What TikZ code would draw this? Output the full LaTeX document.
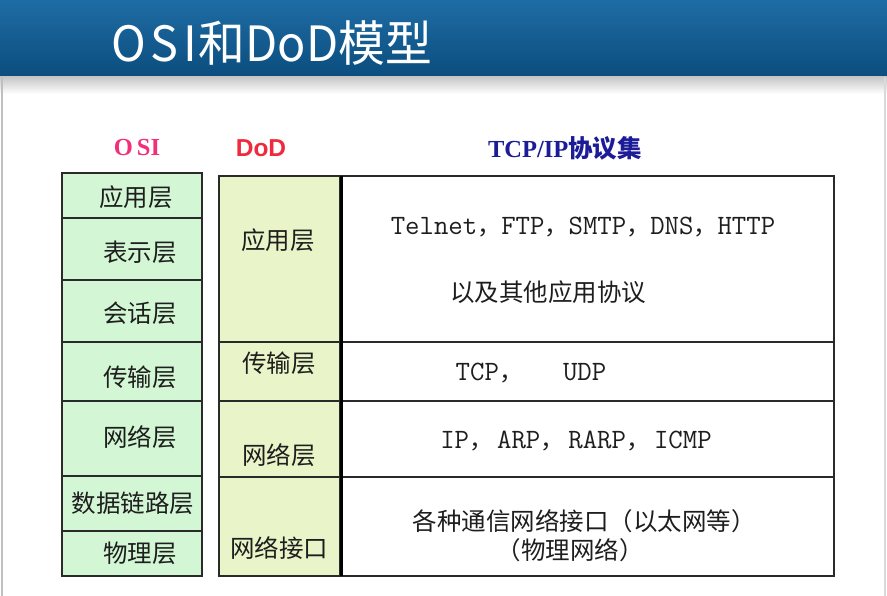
\documentclass[tikz,border=0pt]{standalone}
\usepackage{fontspec}
\setmainfont{Noto Sans CJK SC}
\newfontfamily\tnr{Liberation Serif}
\newfontfamily\arialf{Liberation Sans}
\definecolor{barTop}{HTML}{1E6CA4}
\definecolor{barBot}{HTML}{0B4D7E}
\definecolor{osiFill}{HTML}{D3F6D5}
\definecolor{dodFill}{HTML}{E9F5C8}
\definecolor{gridLine}{HTML}{2A2A2A}
\definecolor{osiHead}{HTML}{F0307A}
\definecolor{dodHead}{HTML}{EE2A3C}
\definecolor{tcpHead}{HTML}{1C1C98}
\definecolor{txt}{HTML}{1E1E1E}
\newcommand{\cellfont}{\fontsize{24.5}{29}\selectfont}
\newcommand{\latfont}{\ttfamily\fontsize{28}{30}\selectfont}
\newcommand{\cm}{{\rmfamily\fontsize{24}{28}\selectfont ，}}
\tikzset{
  cellbox/.style={draw=gridLine, line width=1.5pt, rectangle, inner sep=0pt, outer sep=0pt},
  osicell/.style={cellbox, fill=osiFill, minimum width=140pt},
  dodcell/.style={cellbox, fill=dodFill, minimum width=121pt},
  tcpcell/.style={cellbox, fill=white, minimum width=493pt},
  lbl/.style={inner sep=0pt, text=txt, font=\cellfont},
  head/.style={inner sep=0pt, font=\bfseries\fontsize{24.5}{28}\selectfont}
}
\begin{document}
\begin{tikzpicture}[x=1pt, y=-1pt]
\useasboundingbox (0,0) rectangle (887,596);
\fill[white] (0,0) rectangle (887,596);
% title bar and its shadow
\shade[top color=barTop, bottom color=barBot] (0,0) rectangle (887,77);
\shade[top color=black!22, bottom color=white] (0,77) rectangle (887,94);
\draw[black!25, line width=1.5pt] (2,77) -- (2,596);
\draw[black!15, line width=1.5pt] (885,77) -- (885,596);
\node[anchor=west, text=white, inner sep=0pt, font=\fontsize{45}{50}\selectfont]
  (title) at (111,43) {\scalebox{1.04}[1.08]{O\hspace{4pt}S\hspace{5pt}I\hspace{2pt}和DoD模型}};

% column headings
\node[head, text=osiHead] (hosi) at (137,148) {\tnr O\,SI};
\node[head, text=dodHead] (hdod) at (261,148) {\arialf DoD};
\node[head, text=tcpHead] (htcp) at (565,148) {{\tnr TCP/IP}协议集};

% OSI column
\node[osicell, minimum height=45pt] (o1) at (132,195.5) {};
\node[osicell, minimum height=62pt] (o2) at (132,249) {};
\node[osicell, minimum height=62pt] (o3) at (132,311) {};
\node[osicell, minimum height=59pt] (o4) at (132,371.5) {};
\node[osicell, minimum height=75pt] (o5) at (132,438.5) {};
\node[osicell, minimum height=55pt] (o6) at (132,503.5) {};
\node[osicell, minimum height=45pt] (o7) at (132,553.5) {};
\node[lbl] (lo1) at (136,197) {应用层};
\node[lbl] (lo2) at (140,252) {表示层};
\node[lbl] (lo3) at (140,313) {会话层};
\node[lbl] (lo4) at (140,377) {传输层};
\node[lbl] (lo5) at (140,437) {网络层};
\node[lbl] (lo6) at (133,503) {数据链路层};
\node[lbl] (lo7) at (140,553) {物理层};

% DoD column
\node[dodcell, minimum height=166pt] (d1) at (279.5,259) {};
\node[dodcell, minimum height=59pt] (d2) at (279.5,371.5) {};
\node[dodcell, minimum height=76pt] (d3) at (279.5,439) {};
\node[dodcell, minimum height=99pt] (d4) at (279.5,526.5) {};
\node[lbl] (ld1) at (278,240) {应用层};
\node[lbl] (ld2) at (279,363) {传输层};
\node[lbl] (ld3) at (279,455) {网络层};
\node[lbl] (ld4) at (279,548) {网络接口};

% TCP/IP protocol suite column
\node[tcpcell, minimum height=166pt] (t1) at (587.5,259) {};
\node[tcpcell, minimum height=59pt] (t2) at (587.5,371.5) {};
\node[tcpcell, minimum height=76pt] (t3) at (587.5,439) {};
\node[tcpcell, minimum height=99pt] (t4) at (587.5,526.5) {};
\draw[black, line width=3pt] (t1.north west) -- (t4.south west);
\node[lbl] (lt1a) at (583,227) {\latfont Telnet\cm FTP\cm SMTP\cm DNS\cm HTTP};
\node[lbl] (lt1b) at (548,292) {以及其他应用协议};
\node[lbl] (lt2) at (531,373) {\latfont TCP\cm\hspace{40pt}UDP};
\node[lbl] (lt3) at (576,441) {\latfont IP\cm\hspace{4pt}ARP\cm\hspace{4pt}RARP\cm\hspace{4pt}ICMP};
\node[lbl] (lt4a) at (584,521) {各种通信网络接口（以太网等）};
\node[lbl] (lt4b) at (570,550) {（物理网络）};
\end{tikzpicture}
\end{document}
